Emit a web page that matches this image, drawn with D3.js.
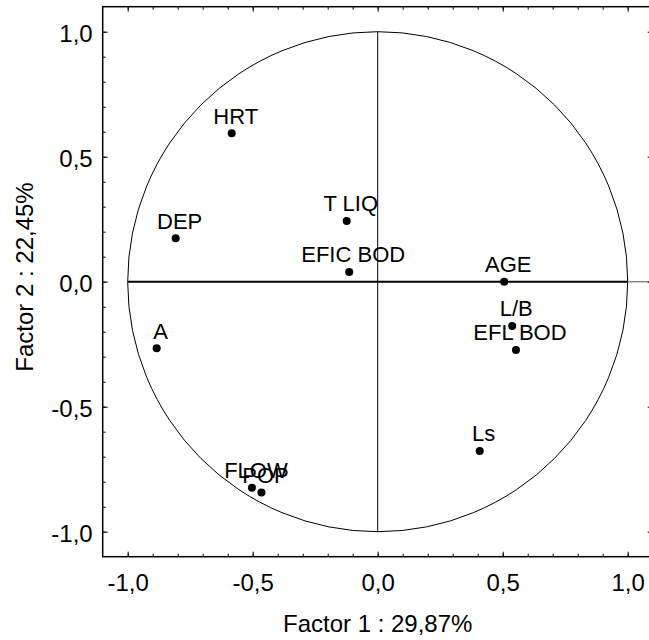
<!DOCTYPE html>
<html>
<head>
<meta charset="utf-8">
<script src="https://cdnjs.cloudflare.com/ajax/libs/d3/7.8.5/d3.min.js"></script>
<style>
  body { margin: 0; background: #fff; }
  text { font-family: "Liberation Sans", Arial, sans-serif; fill: #000; }
</style>
</head>
<body>
<svg id="chart" width="649" height="640"></svg>
<script>
// variable loadings on the first two factors
var names = ["HRT", "DEP", "A", "T LIQ", "EFIC BOD", "AGE", "L/B", "EFL BOD", "Ls", "FLOW", "POP"];
var factor1 = [-0.584, -0.808, -0.884, -0.124, -0.114, 0.506, 0.538, 0.553, 0.408, -0.503, -0.465];
var factor2 = [0.594, 0.174, -0.266, 0.243, 0.039, 0.000, -0.177, -0.273, -0.677, -0.824, -0.843];

var majorTicks = [-1, -0.5, 0, 0.5, 1];
var minorTicks = d3.range(-10, 11).map(function(i) { return i / 10; });
var xTitle = "Factor 1 : 29,87%";
var yTitle = "Factor 2 : 22,45%";

// note: "top" is taken by window.top, so use other names
var plotLeft = 102.7, plotTop = 6.7, plotSize = 550;

var svg = d3.select("#chart");
var x = d3.scaleLinear().domain([-1.1, 1.1]).range([plotLeft, plotLeft + plotSize]);
var y = d3.scaleLinear().domain([-1.1, 1.1]).range([plotTop + plotSize, plotTop]);

var fmt = function(d) { return d.toFixed(1).replace(".", ","); };

// unit circle
svg.append("ellipse")
    .attr("cx", x(0))
    .attr("cy", y(0))
    .attr("rx", x(1) - x(0))
    .attr("ry", y(0) - y(1))
    .style("fill", "none")
    .style("stroke", "#000")
    .style("stroke-width", 1);

// cross lines through the origin
svg.append("line")
    .attr("x1", x(-1)).attr("x2", x(1))
    .attr("y1", y(0)).attr("y2", y(0))
    .style("stroke", "#000")
    .style("stroke-width", 2);
svg.append("line")
    .attr("x1", x(1)).attr("x2", x(1.1))
    .attr("y1", y(0)).attr("y2", y(0))
    .style("stroke", "#888")
    .style("stroke-width", 1.5);
svg.append("line")
    .attr("x1", x(0)).attr("x2", x(0))
    .attr("y1", y(1)).attr("y2", y(-1))
    .style("stroke", "#000")
    .style("stroke-width", 1);

// axes, ticks pointing inward
function addAxis(axis, tx, ty, labels) {
    var g = svg.append("g")
        .attr("transform", "translate(" + tx + "," + ty + ")")
        .call(axis);
    g.select(".domain").remove();
    g.selectAll("line").style("stroke", "#000").style("stroke-width", 1);
    g.selectAll("text")
        .style("font-size", "24px")
        .style("font-family", "Liberation Sans, Arial, sans-serif")
        .style("fill", "#000");
    if (!labels) g.selectAll("text").remove();
    return g;
}

addAxis(d3.axisBottom(x).tickValues(minorTicks).tickSize(-3).tickFormat(""), 0, plotTop + plotSize, false);
addAxis(d3.axisBottom(x).tickValues(majorTicks).tickSize(-5).tickPadding(17).tickFormat(fmt), 0, plotTop + plotSize, true);
addAxis(d3.axisTop(x).tickValues(minorTicks).tickSize(-3).tickFormat(""), 0, plotTop, false);
addAxis(d3.axisTop(x).tickValues(majorTicks).tickSize(-5).tickFormat(""), 0, plotTop, false);

addAxis(d3.axisLeft(y).tickValues(minorTicks).tickSize(-3).tickFormat(""), plotLeft, 0, false);
var yAx = addAxis(d3.axisLeft(y).tickValues(majorTicks).tickSize(-5).tickPadding(10).tickFormat(fmt), plotLeft, 0, true);
yAx.selectAll("text").attr("dy", "0.42em");
addAxis(d3.axisRight(y).tickValues(minorTicks).tickSize(-3).tickFormat(""), plotLeft + plotSize, 0, false);
addAxis(d3.axisRight(y).tickValues(majorTicks).tickSize(-5).tickFormat(""), plotLeft + plotSize, 0, false);

// frame
svg.append("rect")
    .attr("x", plotLeft)
    .attr("y", plotTop)
    .attr("width", plotSize)
    .attr("height", plotSize)
    .style("fill", "none")
    .style("stroke", "#000")
    .style("stroke-width", 1.5);

// points and labels
var pts = names.map(function(n, i) { return { name: n, f1: factor1[i], f2: factor2[i] }; });

svg.selectAll(".dot")
    .data(pts)
    .enter().append("circle")
    .attr("class", "dot")
    .attr("cx", function(d) { return x(d.f1); })
    .attr("cy", function(d) { return y(d.f2); })
    .attr("r", 4)
    .style("fill", "#000");

svg.selectAll(".lbl")
    .data(pts)
    .enter().append("text")
    .attr("class", "lbl")
    .attr("x", function(d) { return x(d.f1) + 4; })
    .attr("y", function(d) { return y(d.f2) - 9.5; })
    .attr("text-anchor", "middle")
    .style("font-size", "22px")
    .text(function(d) { return d.name; });

// axis titles
svg.append("text")
    .attr("x", x(0))
    .attr("y", 631.5)
    .attr("text-anchor", "middle")
    .style("font-size", "24px")
    .text(xTitle);

svg.append("text")
    .attr("transform", "translate(33,277) rotate(-90)")
    .attr("text-anchor", "middle")
    .style("font-size", "24px")
    .text(yTitle);
</script>
</body>
</html>
